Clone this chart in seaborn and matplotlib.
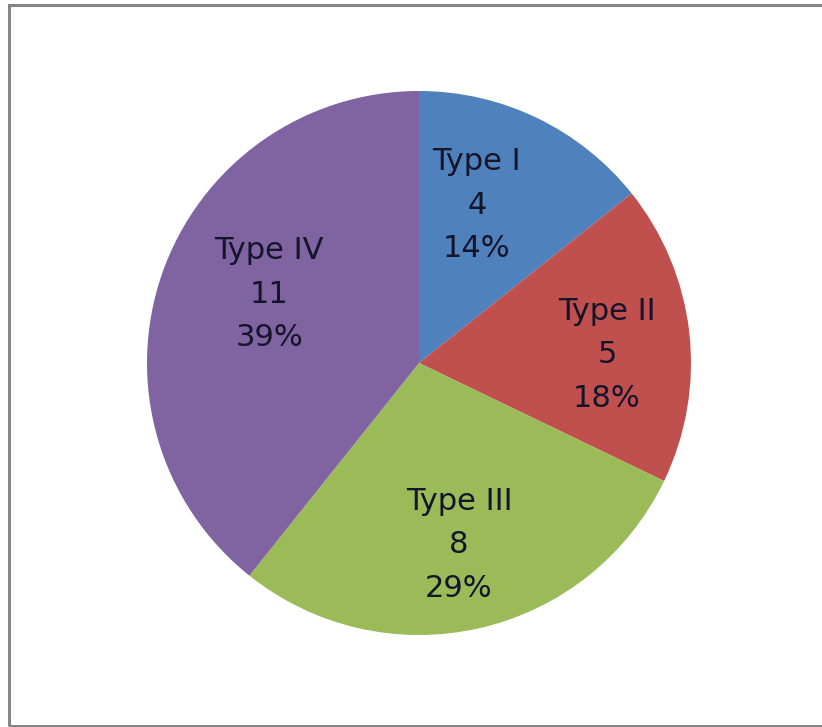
import matplotlib
matplotlib.use("Agg")
import matplotlib.pyplot as plt
from matplotlib.patches import Rectangle
import seaborn as sns

# --- DADOS ---
tipos = ["Type I", "Type II", "Type III", "Type IV"]
contagens = [4, 5, 8, 11]
cores = ["#4F81BD", "#C0504D", "#9BBB59", "#8064A2"]

# posicao dos rotulos (centro do texto, em unidades do raio da pizza)
pos_rotulos = [(0.213, 0.58), (0.691, 0.03), (0.147, -0.669), (-0.551, 0.253)]

sns.set_theme(style="white")
plt.rcParams['font.family'] = ['DejaVu Sans']

fig = plt.figure(figsize=(8.22, 7.27), dpi=100)
fig.patch.set_facecolor("white")

# eixo quadrado de 544 px centrado em (419, 363)
ax = fig.add_axes([147 / 822, 92 / 727, 544 / 822, 544 / 727])
paleta = sns.color_palette(cores)

ax.pie(contagens, colors=paleta, startangle=90, counterclock=False,
       wedgeprops=dict(linewidth=0), radius=1)
ax.set_xlim(-1, 1)
ax.set_ylim(-1, 1)
ax.set_aspect("equal")
ax.axis("off")

total = sum(contagens)
for nome, valor, (x, y) in zip(tipos, contagens, pos_rotulos):
    pct = round(100 * valor / total)
    ax.text(x, y, f"{nome}\n{valor}\n{pct}%", ha="center", va="center",
            fontsize=22, color="#14142a", linespacing=1.62)

# moldura cinza (borda direita fica fora da imagem)
fig.add_artist(Rectangle((9 / 822, 1 - 726 / 727), 830 / 822, 721 / 727,
                         transform=fig.transFigure, fill=False,
                         edgecolor="#858585", linewidth=2.2, clip_on=False))

fig.savefig("out.png", dpi=100)
plt.close()
